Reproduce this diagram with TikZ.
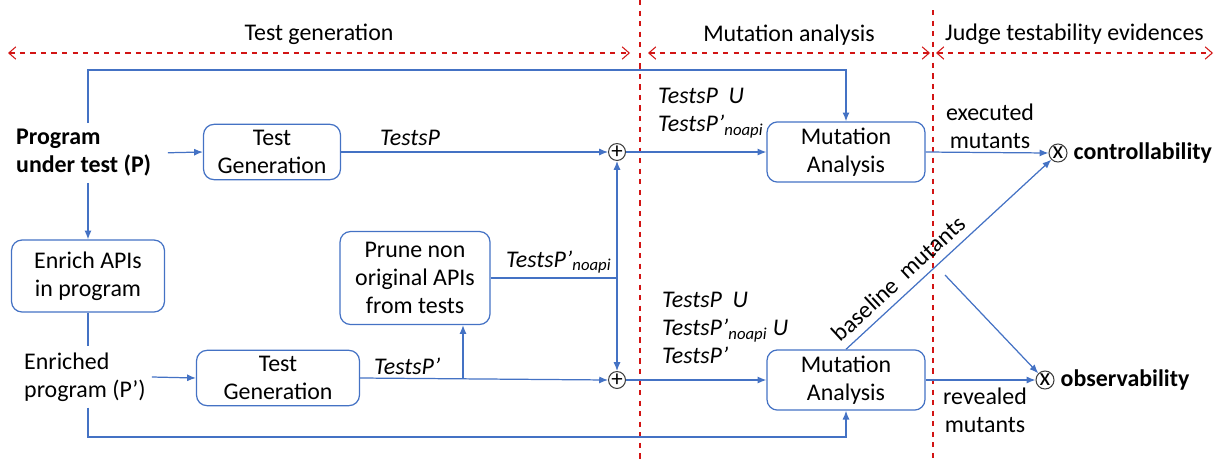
\documentclass[tikz,border=0pt]{standalone}
\usepackage{fontspec}
\setmainfont{Carlito}
\usetikzlibrary{arrows.meta}
\definecolor{flowblue}{RGB}{68,114,196}
\definecolor{phasered}{RGB}{210,20,20}
\begin{document}
\begin{tikzpicture}[x=0.02cm,y=-0.02cm, every node/.style={font=\fontsize{13.6}{16}\selectfont}]
		\tikzset{
			block/.style={draw=flowblue,line width=0.7pt,rounded corners=6pt,align=center,minimum height=1.1cm},
			flow/.style={flowblue,line width=0.7pt,-{Latex[length=5pt,width=4pt]}},
			flowline/.style={flowblue,line width=0.7pt},
			phase/.style={phasered,dashed,line width=0.6pt},
			sumcircle/.style={circle,draw=black!75,line width=0.6pt,inner sep=0pt,minimum size=0.33cm,font=\fontsize{13}{13}\selectfont},
			multcircle/.style={sumcircle,minimum size=0.36cm,font=\fontsize{14}{14}\selectfont},
			lbl/.style={align=left,font=\fontsize{13.6}{16}\selectfont\itshape}
		}
		\useasboundingbox (0,0) rectangle (1230,460);
		% phases
		\draw[phase] (640,0) -- (640,460);
		\draw[phase] (933,10) -- (933,460);
		\foreach \a/\b/\m/\t in {8/630/318/Test generation,648/930/787/Mutation analysis,936/1213/1075/Judge testability evidences}
			\draw[phase,{Straight Barb[length=4pt,width=7pt]}-{Straight Barb[length=4pt,width=7pt]}] (\a,53) -- (\b,53)
				node[midway,above=1pt,black] {\t};
		% Program under test
		\node[anchor=west,align=left,font=\fontsize{13.6}{16}\selectfont\bfseries] (put) at (10,153) {Program\\under test (P)};
		\node[block,minimum width=2.74cm] (tg1) at (272,152) {Test\\Generation};
		\node[sumcircle] (s1) at (617,152) {+};
		\node[block,minimum width=3.16cm] (ma1) at (846,152) {Mutation\\Analysis};
		\node[multcircle] (c) at (1058,153) {x};
		\node[anchor=west,font=\fontsize{13.6}{16}\selectfont\bfseries] (ctrl) at (c.east) {controllability};
		% Enriched program
		\node[block,minimum width=3.06cm,minimum height=1.44cm] (enr) at (88,276) {Enrich APIs\\in program};
		\node[anchor=west,align=left] (ep) at (18,377) {Enriched\\program (P’)};
		\node[block,minimum width=3.26cm] (tg2) at (278,378) {Test\\Generation};
		\node[block,minimum width=3cm,minimum height=1.86cm] (prune) at (415,278) {Prune non\\original APIs\\from tests};
		\node[sumcircle] (s2) at (617,380) {+};
		\node[block,minimum width=3.16cm] (ma2) at (846,380) {Mutation\\Analysis};
		\node[multcircle] (o) at (1045,380) {x};
		\node[anchor=west,font=\fontsize{13.6}{16}\selectfont\bfseries] (obs) at (o.east) {observability};
		% flows P
		\draw[flow,shorten <=6pt] (put.east) -- (tg1.west);
		\draw[flow] (tg1.east) -- (s1.west);
		\draw[flow] (s1.east) -- (ma1.west);
		\draw[flow] (ma1.east) -- (c.west);
		\draw[flow] (enr.north |- put.north) -- (enr.north |- 0,70) -| (ma1.north);
		\draw[flow] (enr.north |- put.south) -- (enr.north);
		% flows P'
		\draw[flowline] (enr.south) -- (enr.south |- ep.north);
		\draw[flow] (ep.east) -- (tg2.west);
		\draw[flow] (enr.south |- ep.south) -- (enr.south |- 0,437) -| (ma2.south);
		\draw[flow] (tg2.east) -- (s2.west);
		\coordinate (tap) at (463,378);
		\draw[flow] (tap) -- (tap |- prune.south);
		\coordinate (mid) at (s1 |- prune.east);
		\draw[flowline] (prune.east) -- (mid);
		\draw[flow] (mid) -- (s1.south);
		\draw[flow] (mid) -- (s2.north);
		\draw[flow] (s2.east) -- (ma2.west);
		\draw[flow] (ma2.east) -- (o.west);
		% evidences
		\draw[flow] (ma2.north) -- (c.south west)
			node[pos=0.31,above=1pt,sloped,black] {baseline\ \ mutants};
		\coordinate (cross) at (945,275);
		\draw[flow] (cross) -- (o.north west);
		% labels
		\node[lbl,anchor=west] (lp) at (374,138) {TestsP};
		\node[lbl,anchor=west] (lpn) at (500,262) {TestsP’\textsubscript{noapi}};
		\node[lbl,anchor=west] (lpp) at (368,366) {TestsP’};
		\node[lbl,anchor=north west] (lu1) at (652,82) {TestsP\ \ U\\TestsP’\textsubscript{noapi}};
		\node[lbl,anchor=north west] (lu2) at (656,286) {TestsP\ \ U\\TestsP’\textsubscript{noapi} U\\TestsP’};
		\node[align=center] (ex) at (990,126) {executed\\mutants};
		\node[align=center] (rv) at (985,410) {revealed\\mutants};
\end{tikzpicture}
\end{document}
